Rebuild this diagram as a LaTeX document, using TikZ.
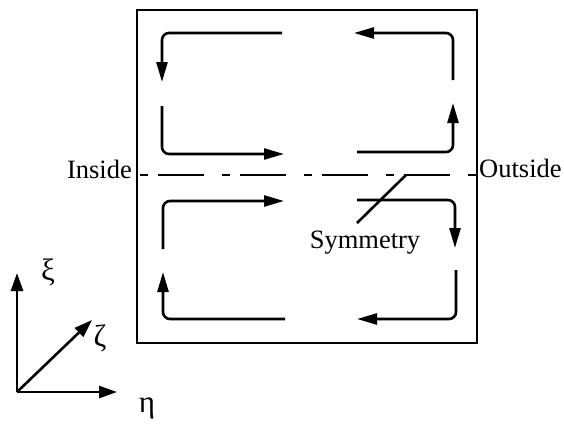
\documentclass[tikz,border=0pt]{standalone}
\usepackage{fontspec}
\setmainfont{Liberation Serif}
\usetikzlibrary{arrows.meta}
\begin{document}
\begin{tikzpicture}[x=1pt,y=-1pt,
  flow/.style={line width=2.6pt, rounded corners=7pt},
  tip/.style={-{Triangle[length=20pt,width=11pt]}},
  axtip/.style={line width=2.6pt,-{Triangle[length=18pt,width=12pt]}},
  lbl/.style={font=\fontsize{26.5}{30}\selectfont, inner sep=0pt},
  glbl/.style={font=\fontsize{31}{34}\selectfont, inner sep=0pt}]
\useasboundingbox (0,0) rectangle (564,424);
\draw[line width=2.4pt] (137,10) rectangle (477,343);
% top-left loop
\draw[flow,tip] (282,33) -- (162,33) -- (162,82);
\draw[flow,tip] (162,106) -- (162,154) -- (284,154);
% top-right loop
\draw[flow,tip] (453,80) -- (453,33) -- (354,33);
\draw[flow,tip] (357,152) -- (453,152) -- (453,103);
% bottom-left loop
\draw[flow,tip] (163,249) -- (163,201) -- (284,201);
\draw[flow,tip] (285,319) -- (163,319) -- (163,272);
% bottom-right loop
\draw[flow,tip] (357,200) -- (455,200) -- (455,248);
\draw[flow,tip] (456,270) -- (456,319) -- (357,319);
% symmetry line
\coordinate (sl) at (140,175);
\coordinate (sr) at (476,175);
\draw[line width=2.6pt, dash pattern=on 8pt off 10pt on 46pt off 18pt] (sl) -- (sr);
\node[lbl, anchor=base east] (inside) at (132,178) {Inside};
\node[lbl, anchor=base west] (outside) at (479,177) {Outside};
\node[lbl, anchor=base] (sym) at (365,248) {Symmetry};
\coordinate (la) at (357,223);
\coordinate (lb) at (406,175);
\draw[line width=2.6pt] (la) -- (lb);
% axes
\coordinate (o) at (17,392);
\coordinate (xi) at (17,273);
\coordinate (eta) at (117,392);
\coordinate (zeta) at (92,320);
\draw[axtip] (o) -- (xi);
\draw[axtip] (o) -- (eta);
\draw[axtip] (o) -- (zeta);
\node[glbl] (lxi) at (48,272) {ξ};
\node[glbl] (lzeta) at (100,338) {ζ};
\node[glbl] (leta) at (147,408) {η};
\end{tikzpicture}
\end{document}
